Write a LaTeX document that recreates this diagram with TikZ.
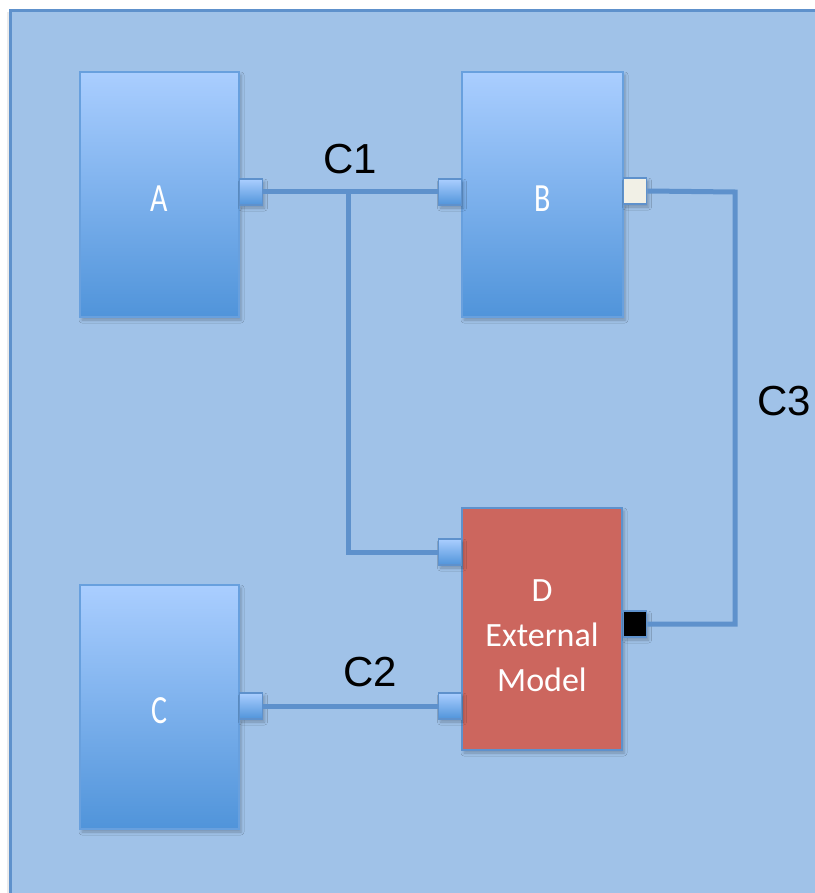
\documentclass[tikz,border=0pt]{standalone}
\usepackage{fontspec}
\setmainfont{Liberation Sans}
\newfontfamily\blockfont{Carlito}
\usetikzlibrary{shadows.blur}

\definecolor{canvasfill}{RGB}{160,194,232}
\definecolor{canvasline}{RGB}{94,145,204}
\definecolor{blocktop}{RGB}{170,206,255}
\definecolor{blockbot}{RGB}{80,148,218}
\definecolor{blockline}{RGB}{104,160,222}
\definecolor{extfill}{RGB}{204,102,94}
\definecolor{wire}{RGB}{94,145,204}
\definecolor{portcream}{RGB}{241,240,230}

\tikzset{
  softshadow/.style={blur shadow={shadow xshift=2pt, shadow yshift=-3pt,
      shadow blur radius=3pt, shadow opacity=25}},
  block/.style={rectangle, draw=blockline, line width=2.5pt,
      top color=blocktop, bottom color=blockbot, softshadow},
  blocktext/.style={text=white, yshift=-4pt, xscale=0.75,
      font=\blockfont\fontsize{40}{44}\selectfont},
  extblock/.style={rectangle, draw=canvasline, line width=2.5pt,
      fill=extfill, softshadow},
  extlabel/.style={text=white, align=center,
      font=\blockfont\fontsize{34}{45}\selectfont},
  port/.style={rectangle, draw=canvasline, line width=1.8pt,
      minimum width=23pt, minimum height=26pt, inner sep=0pt,
      top color=blocktop, bottom color=blockbot, softshadow},
  wireline/.style={draw=wire, line width=5pt},
  conlabel/.style={font=\fontsize{42}{48}\selectfont, text=black}
}

\begin{document}
\begin{tikzpicture}[x=1pt, y=-1pt]
  \useasboundingbox (0,0) rectangle (814,893);
  \fill[white] (0,0) rectangle (814,893);

  % modelling canvas, running off the right and bottom edges
  \fill[black, opacity=0.08] (7,12) rectangle (840,920);
  \draw[fill=canvasfill, draw=canvasline, line width=3pt] (10.5,10.5) rectangle (840,920);

  % component blocks
  \node[block, minimum width=159pt, minimum height=245pt,
        label={[blocktext]center:A}] (A) at (159.5,194.5) {};
  \node[block, minimum width=161pt, minimum height=245pt,
        label={[blocktext]center:B}] (B) at (542.5,194.5) {};
  \node[block, minimum width=159pt, minimum height=244pt,
        label={[blocktext]center:C}] (C) at (159.5,707) {};
  \node[extblock, minimum width=160pt, minimum height=242pt] (D) at (542,629) {};
  \node[extlabel] (Dtext) at (542,636) {D\\External\\Model};

  % ports
  \node[port] (pA)  at (251,192) {};
  \node[port] (pB1) at (450,192) {};
  \node[port, fill=portcream, top color=portcream, bottom color=portcream] (pB2) at (635,191) {};
  \node[port] (pD1) at (450,552) {};
  \node[port, fill=black, top color=black, bottom color=black] (pD2) at (635,624) {};
  \node[port] (pC)  at (251,706) {};
  \node[port] (pD3) at (450,706) {};

  % connections
  \coordinate (j1) at (348,192);
  \coordinate (c3) at (735,192);
  \begin{scope}[line cap=butt, line join=miter]
    \draw[wireline] (pA.east) -- (pB1.west);
    \draw[wireline] (j1) |- (pD1.west);
    \draw[wireline] (pB2.east) -- (c3) |- (pD2.east);
    \draw[wireline] (pC.east) -- (pD3.west);
  \end{scope}

  % connector labels
  \node[conlabel] (l1) at (350,159) {C1};
  \node[conlabel] (l2) at (370,672) {C2};
  \node[conlabel] (l3) at (784,401) {C3};
\end{tikzpicture}
\end{document}
